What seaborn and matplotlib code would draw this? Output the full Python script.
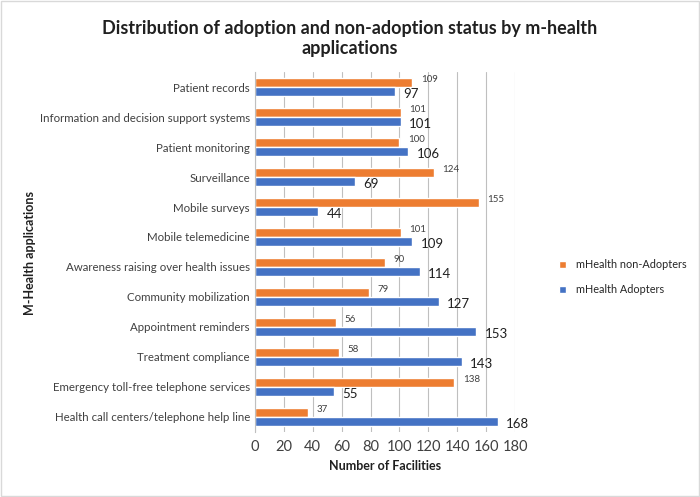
import pandas as pd
import seaborn as sns
import matplotlib.pyplot as plt
from matplotlib.patches import Rectangle

apps = ["Patient records", "Information and decision support systems", "Patient monitoring",
        "Surveillance", "Mobile surveys", "Mobile telemedicine",
        "Awareness raising over health issues", "Community mobilization",
        "Appointment reminders", "Treatment compliance",
        "Emergency toll-free telephone services", "Health call centers/telephone help line"]
non_adopters = [109, 101, 100, 124, 155, 101, 90, 79, 56, 58, 138, 37]
adopters = [97, 101, 106, 69, 44, 109, 114, 127, 153, 143, 55, 168]
series = ["mHealth non-Adopters", "mHealth Adopters"]

df = pd.concat([
    pd.DataFrame({"app": apps, "value": non_adopters, "status": series[0]}),
    pd.DataFrame({"app": apps, "value": adopters, "status": series[1]}),
])

sns.set_style("white")
plt.rcParams["font.family"] = ["Lato", "DejaVu Sans"]

fig = plt.figure(figsize=(7, 4.97), dpi=100)
ax = fig.add_axes([0.364, 0.131, 0.372, 0.724])
sns.barplot(data=df, y="app", x="value", hue="status", hue_order=series,
            palette=["#ED7D31", "#4472C4"], width=0.6, gap=0, ax=ax, saturation=1)

# value labels, small for orange (nudged up), bigger for blue (nudged down)
for t in ax.bar_label(ax.containers[0], fontsize=7, padding=4, color="#404040"):
    t.xyann = (6, 2)
for t in ax.bar_label(ax.containers[1], fontsize=9.5, padding=4, color="#202020"):
    t.xyann = (6, -2)

ax.set_xlim(0, 180)
ax.set_xticks(range(0, 181, 20))
ax.set_ylim(11.5, -0.5)
ax.grid(axis="x", color="#BFBFBF", linewidth=0.8)
ax.set_axisbelow(True)
for s in ["top", "right", "bottom"]:
    ax.spines[s].set_visible(False)
ax.spines["left"].set_color("#BFBFBF")
ax.tick_params(axis="x", labelsize=10.5, colors="#404040", length=0, pad=6)
ax.tick_params(axis="y", labelsize=8.3, colors="#404040", length=0)
ax.set_xlabel("Number of Facilities", fontsize=9, fontweight="bold", color="#202020")
ax.set_ylabel("")
fig.text(0.043, 0.49, "M-Health applications", rotation=90, fontsize=9, fontweight="bold",
         ha="center", va="center", color="#202020")

fig.suptitle("Distribution of adoption and non-adoption status by m-health\napplications",
             x=0.5, y=0.96, fontsize=13, fontweight="bold", color="#202020")

h, l = ax.get_legend_handles_labels()
ax.legend(h, l, loc="center left", bbox_to_anchor=(1.13, 0.43), frameon=False,
          fontsize=7.8, handlelength=0.7, handleheight=0.7, labelspacing=1.3,
          handletextpad=0.9)

fig.patches.append(Rectangle((0.002, 0.002), 0.996, 0.996, transform=fig.transFigure,
                             fill=False, edgecolor="#D9D9D9", linewidth=1))

fig.savefig("out.png", dpi=100)
